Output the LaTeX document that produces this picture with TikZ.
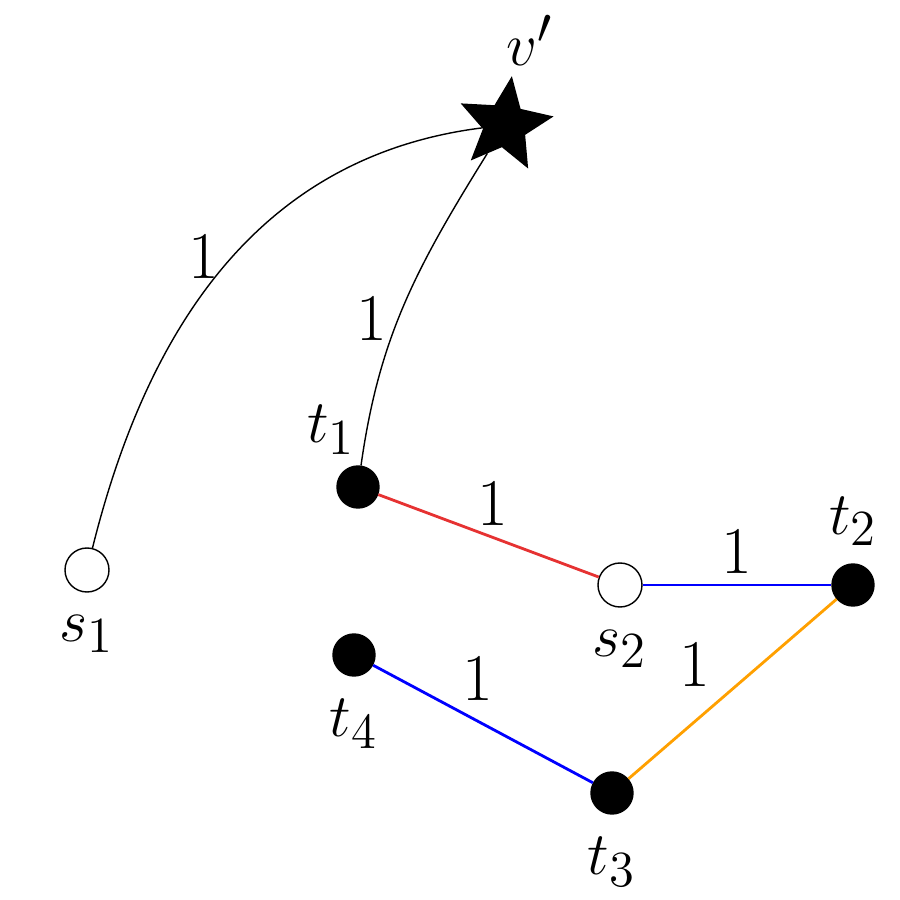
\documentclass[tikz,border=0pt]{standalone}
\usepackage{amsmath}
\usetikzlibrary{shapes.geometric,positioning}
\definecolor{edgered}{RGB}{230,50,50}
\definecolor{edgeorange}{RGB}{255,160,0}
\begin{document}
\begin{tikzpicture}
  [every node/.style={font=\fontsize{19}{23}\selectfont},
  empty/.style={circle,draw,fill=white,minimum size=0.44cm,inner sep=0pt},
  full/.style={circle,draw,fill=black,minimum size=0.42cm,inner sep=0pt},
  wlab/.style={inner sep=3pt},
 ]
  \useasboundingbox (0,0) rectangle (9,9);
  \node[star,star points=5,star point ratio=2.2,fill=black,draw,minimum size=0.95cm,inner sep=0pt,rotate=-8] (v) at (5.05,7.75) {};
  \node[empty] (s1) at (0.87,3.3) {};
  \node[full] (t1) at (3.58,4.13) {};
  \node[empty] (s2) at (6.2,3.15) {};
  \node[full] (t2) at (8.53,3.15) {};
  \node[full] (t4) at (3.54,2.45) {};
  \node[full] (t3) at (6.12,1.07) {};
  % vertex labels
  \node (lv) at (5.3,8.6) {$v'$};
  \node[below=0.1cm of s1] (ls1) {$s_1$};
  \node[above left=0.05cm and -0.25cm of t1] (lt1) {$t_1$};
  \node[below=0.1cm of s2] (ls2) {$s_2$};
  \node[above=0.05cm of t2] (lt2) {$t_2$};
  \node[below=0.1cm of t4] (lt4) {$t_4$};
  \node[below=0.1cm of t3] (lt3) {$t_3$};
  % edges
  \draw (s1) to[out=76,in=188] node[wlab,pos=0.45,above left,xshift=0.25cm] {1} (v);
  \draw (t1) to[out=82,in=240] node[wlab,pos=0.45,left] {1} (v);
  \draw[edgered,thick] (t1) -- node[wlab,above,black,pos=0.52] {1} (s2);
  \draw[blue,thick] (s2) -- node[wlab,above,black] {1} (t2);
  \draw[blue,thick] (t4) -- node[wlab,above right,black,pos=0.4,xshift=-0.1cm] {1} (t3);
  \draw[edgeorange,thick] (t3) -- node[wlab,above left,black,pos=0.45] {1} (t2);
\end{tikzpicture}
\end{document}
